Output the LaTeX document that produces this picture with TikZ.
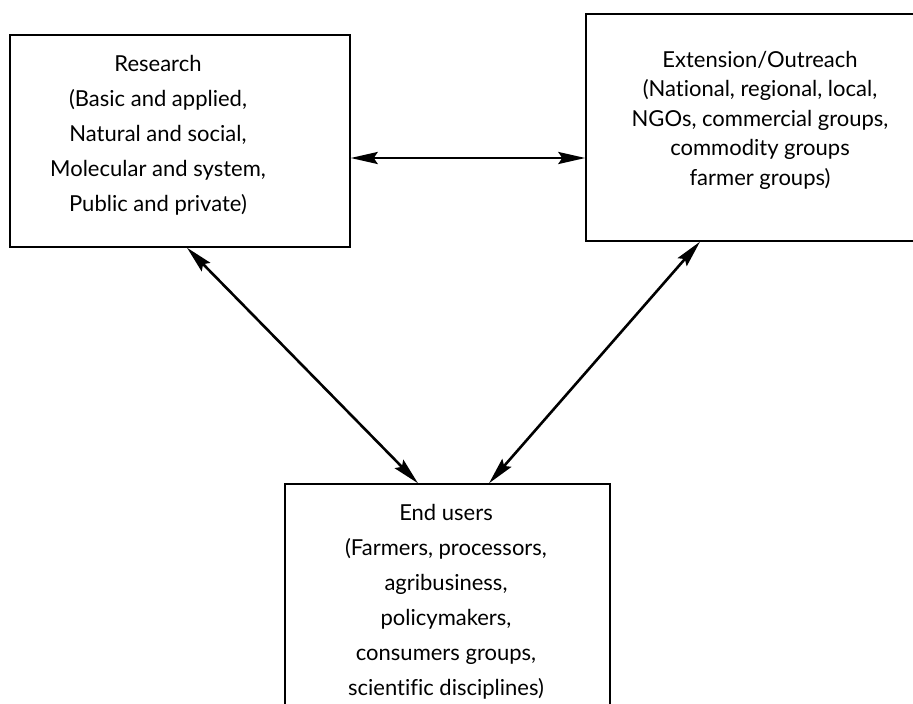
\documentclass[tikz,border=0pt]{standalone}
\usepackage{fontspec}
\setmainfont{Lato}[Ligatures=CommonOff]
\usetikzlibrary{arrows.meta,positioning,calc}

\begin{document}
\begin{tikzpicture}[x=1pt,y=-1pt,
  box/.style={draw,line width=1.4pt,minimum width=#1,inner sep=0pt},
  txt/.style={align=center,inner sep=0pt,font=\fontsize{22}{35}\selectfont},
  link/.style={{Stealth[length=27pt,width=12pt,inset=4pt]}-{Stealth[length=27pt,width=12pt,inset=4pt]},line width=2.6pt}]
\useasboundingbox (0,0) rectangle (913,704);
% the three boxes
\node[box=340pt,minimum height=212pt] (research) at (180,141) {};
\node[box=330pt,minimum height=227pt] (extension) at (751,127.5) {};
\node[box=325pt,minimum height=250pt] (users) at (447.5,609) {};
% their texts
\node[txt] (research-txt) at (158,135) {Research\\(Basic and applied,\\ Natural and social,\\Molecular and system,\\ Public and private)};
\node[txt,font=\fontsize{22}{29.5}\selectfont] (extension-txt) at (760,120) {Extension/Outreach\\ (National, regional, local,\\NGOs, commercial groups,\\commodity groups\\farmer groups)};
\node[txt] (users-txt) at (446,602) {End users\\(Farmers,\ processors,\\agribusiness,\\ policymakers,\\consumers groups,\\scientific disciplines)};
% links
\draw[link] ([yshift=-17pt]research.east) -- ([yshift=-17pt]research.east -| extension.west);
\draw[link] ([xshift=7pt]research.south) -- ([xshift=-29.5pt]users.north);
\draw[link] ([xshift=-51pt]extension.south) -- ([xshift=41.5pt]users.north);
\end{tikzpicture}
\end{document}
